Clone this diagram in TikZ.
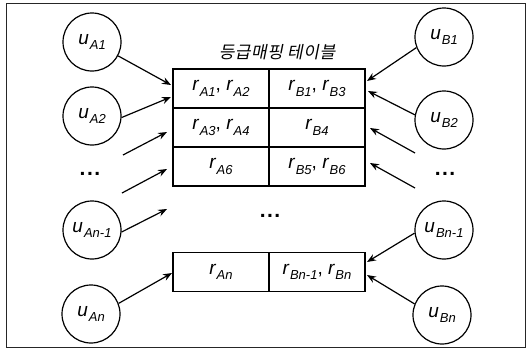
\documentclass[tikz,border=0pt]{standalone}
\usepackage{fontspec}
\setmainfont{Liberation Sans}
\newfontfamily\krfont[FakeSlant=0.2,LetterSpace=3]{Noto Sans CJK KR}
\usetikzlibrary{arrows.meta}

% label sizes: main letter and lowered subscript
\newcommand\mainsz{\fontsize{19}{19}\selectfont}
\newcommand\subsz{\fontsize{13}{13}\selectfont}
\newcommand\ix[2]{\textit{#1\kern1pt\raisebox{-5.5pt}{\subsz #2}}}
\newcommand\spdots{.\kern1.5pt.\kern1.5pt.}

\begin{document}
\begin{tikzpicture}[x=1pt,y=-1pt,
  user/.style={circle,draw,line width=1.2pt,minimum size=58pt,inner sep=0pt,font=\mainsz},
  cell/.style={draw,line width=1.4pt,minimum width=96pt,minimum height=39pt,inner sep=0pt,font=\mainsz},
  link/.style={line width=1.2pt,-{Stealth[length=9pt,width=7pt,inset=3pt]}},
  dots/.style={font=\bfseries\fontsize{21}{21}\selectfont,inner sep=0pt}]

\useasboundingbox (0,0) rectangle (527,351);
\draw[line width=0.8pt,black!85] (6,3) rectangle (525,347);

% title of the table
\node (title) at (277,52) {\krfont\fontsize{17}{17}\selectfont 등급매핑 테이블};

% mapping table
\node[cell] (a1) at (221,88.5)  {\ix{r}{A1}, \ix{r}{A2}};
\node[cell] (b1) at (317,88.5)  {\ix{r}{B1}, \ix{r}{B3}};
\node[cell] (a2) at (221,127.5) {\ix{r}{A3}, \ix{r}{A4}};
\node[cell] (b2) at (317,127.5) {\ix{r}{B4}};
\node[cell] (a3) at (221,166.5) {\ix{r}{A6}};
\node[cell] (b3) at (317,166.5) {\ix{r}{B5}, \ix{r}{B6}};
\node[cell] (an) at (221,272)   {\ix{r}{An}};
\node[cell] (bn) at (317,272)   {\ix{r}{Bn-1}, \ix{r}{Bn}};
\node[dots] (mdots) at (270,216) {\spdots};

% users of group A
\node[user] (uA1)  at (92,42)  {\ix{u}{A1}};
\node[user] (uA2)  at (92,116) {\ix{u}{A2}};
\node[dots] (ldots) at (90,174) {\spdots};
\node[user] (uAm)  at (92,230) {\ix{u}{An-1}};
\node[user] (uAn)  at (91,314) {\ix{u}{An}};

% users of group B
\node[user] (uB1)  at (444,37)  {\ix{u}{B1}};
\node[user] (uB2)  at (444,120) {\ix{u}{B2}};
\node[dots] (rdots) at (445,174) {\spdots};
\node[user] (uBm)  at (444,230) {\ix{u}{Bn-1}};
\node[user] (uBn)  at (442,315) {\ix{u}{Bn}};

% arrow ends
\coordinate (tA1) at (171,85);
\coordinate (tA2) at (171,97);
\coordinate (sA3) at (123,155);  \coordinate (tA3) at (167,132);
\coordinate (sA4) at (122,193);  \coordinate (tA4) at (167,169);
\coordinate (tAm) at (167,209);
\coordinate (tAn) at (172,273);
\coordinate (tB1) at (367,81);
\coordinate (tB2) at (368,91);
\coordinate (sB3) at (415,153);  \coordinate (tB3) at (370,128);
\coordinate (sB4) at (415,188);  \coordinate (tB4) at (370,163);
\coordinate (tBm) at (367,262);
\coordinate (tBn) at (367,275);

% arrows into the table
\draw[link] (uA1.-28) -- (tA1);
\draw[link] (uA2.-3) -- (tA2);
\draw[link] (sA3) -- (tA3);
\draw[link] (sA4) -- (tA4);
\draw[link] (uAm.-4) -- (tAm);
\draw[link] (uAn.21) -- (tAn);
\draw[link] (uB1.201) -- (tB1);
\draw[link] (uB2.170) -- (tB2);
\draw[link] (sB3) -- (tB3);
\draw[link] (sB4) -- (tB4);
\draw[link] (uBm.186) -- (tBm);
\draw[link] (uBn.158) -- (tBn);
\end{tikzpicture}
\end{document}
